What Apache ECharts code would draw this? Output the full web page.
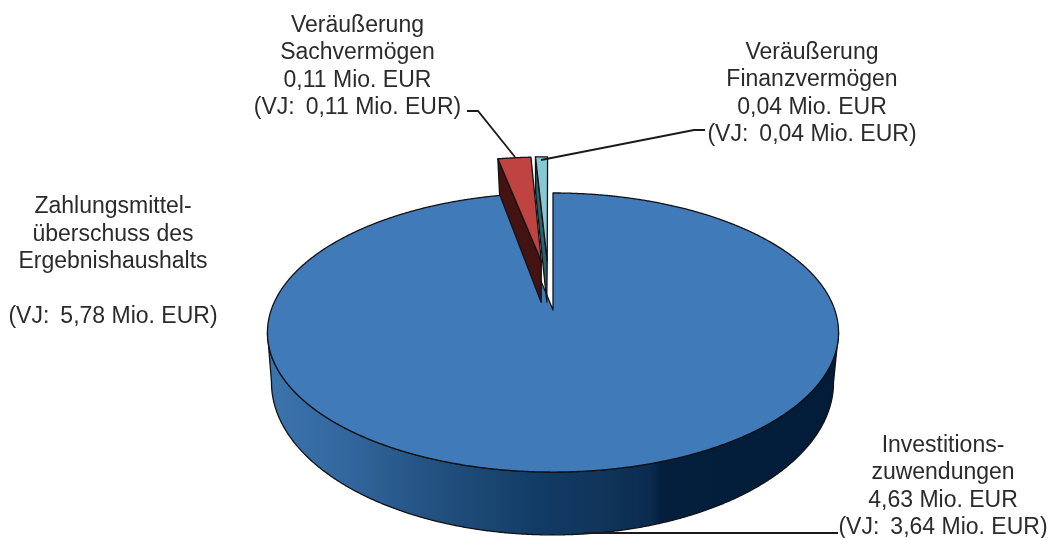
<!DOCTYPE html>
<html>
<head>
<meta charset="utf-8">
<style>html,body{margin:0;padding:0;background:#fff}#chart{width:1051px;height:538px}</style>
<script src="https://cdn.jsdelivr.net/npm/echarts@6/dist/echarts.min.js"></script>
</head>
<body>
<div id="chart"></div>
<script>
// ---- data ----
const nameLines = [
  ['Zahlungsmittel-', 'überschuss des', 'Ergebnishaushalts'],
  ['Investitions-', 'zuwendungen'],
  ['Veräußerung', 'Sachvermögen'],
  ['Veräußerung', 'Finanzvermögen']
];
const values = [null, 4.63, 0.11, 0.04];
const previousYear = [5.78, 3.64, 0.11, 0.04];

// ---- styles / layout ----
const topColors = ['#417ab9', '#417ab9', '#bf4340', '#86c9d3'];
const wallColors = ['#4d1414', '#4d1414', '#451212', '#2a616b'];
const explode = [0, 0, 0.4, 0.4];
const shift = [[0, 0], [0, 0], [1.5, 2], [-3, 2]];
const layers = [1, 1, 5, 3];
const topFace = { ax: 553, ay: 310, A: 281.8, B: 135.9, k: 0.1613 };
const botFace = { ax: 552.5, ay: 355, A: 276.4, B: 147.5, k: 0.18 };
const labelPos = [[113, 262], [943, 486.5], [357.5, 66.5], [812, 93.5]];
const leaders = [
  [[467, 111], [478, 111], [515, 157]],
  [[541, 160], [694, 130], [705, 130]],
  [[584, 533], [838, 533]]
];
const FONT = '"Liberation Sans", Arial, sans-serif';
const fmt = v => v.toFixed(2).replace('.', ',');

const total = values.reduce((s, v) => s + (v || 0), 0);
const toAngle = c => echarts.number.linearMap(c, [0, total], [0, Math.PI * 2]);
const cum = [];
values.reduce((s, v, i) => { cum[i] = [s, s + (v || 0)]; return s + (v || 0); }, 0);

// perspective projection of a point on the unit disc
function proj(face, u, v, s) {
  const w = 1 + face.k * v;
  return [face.ax + s[0] + face.A * u / w, face.ay + s[1] - face.B * v / w];
}
function rim(face, a, off, s) {
  return proj(face, Math.sin(a) + off[0], Math.cos(a) + off[1], s);
}
function arc(face, a0, a1, off, s) {
  const n = Math.max(2, Math.ceil(Math.abs(a1 - a0) / 0.005));
  const pts = [];
  for (let i = 0; i <= n; i++) pts.push(rim(face, a0 + (a1 - a0) * i / n, off, s));
  return pts;
}
const stroke = { stroke: '#101216', lineWidth: 1.3, lineJoin: 'round' };

function renderSlice(params, api) {
  const i = params.dataIndex;
  if (!api.value(1)) return { type: 'group', children: [] };
  const a0 = toAngle(cum[i][0]), a1 = toAngle(cum[i][1]);
  const mid = (a0 + a1) / 2;
  const off = [Math.sin(mid) * explode[i], Math.cos(mid) * explode[i]];
  const s = shift[i];
  const z = layers[i];
  const children = [];
  const apexT = proj(topFace, off[0], off[1], s);
  const apexB = proj(botFace, off[0], off[1], s);
  if (a1 - a0 > Math.PI) {
    // outer wall: silhouette between the two rims on the near side
    const start = Math.acos(-topFace.k), end = Math.PI * 2 - start;
    const startB = Math.acos(-botFace.k), endB = Math.PI * 2 - startB;
    const pts = arc(topFace, start, end, off, s).concat(arc(botFace, endB, startB, off, s));
    children.push({
      type: 'polygon', z2: z,
      shape: { points: pts },
      style: Object.assign({
        fill: new echarts.graphic.LinearGradient(267, 0, 838, 0, [
          { offset: 0, color: '#3c74ad' },
          { offset: 0.13, color: '#33689f' },
          { offset: 0.3, color: '#22507f' },
          { offset: 0.48, color: '#113b65' },
          { offset: 0.58, color: '#11355b' },
          { offset: 0.67, color: '#0b2b4f' },
          { offset: 0.69, color: '#031f3d' },
          { offset: 1, color: '#021c38' }
        ], true)
      }, stroke)
    });
  } else {
    // visible cut face
    const r0T = rim(topFace, a0, off, s), r0B = rim(botFace, a0, off, s);
    children.push({
      type: 'polygon', z2: z,
      shape: { points: [r0T, apexT, apexB, r0B] },
      style: Object.assign({ fill: wallColors[i] }, stroke)
    });
  }
  children.push({
    type: 'polygon', z2: z + 1,
    shape: { points: [apexT].concat(arc(topFace, a0, a1, off, s)) },
    style: Object.assign({ fill: topColors[i] }, stroke)
  });
  return { type: 'group', children };
}

const labelTexts = nameLines.map((lines, i) => {
  const valueLine = values[i] == null ? '' : fmt(values[i]) + ' Mio. EUR';
  return lines.concat([valueLine, '(VJ:\u2009 ' + fmt(previousYear[i]) + ' Mio. EUR)']).join('\n');
});

const graphics = labelTexts.map((t, i) => ({
  type: 'text', z: 10,
  x: labelPos[i][0], y: labelPos[i][1],
  style: {
    text: t, fill: '#2b2b2b', font: '23px ' + FONT, lineHeight: 27.5,
    align: 'center', verticalAlign: 'middle'
  }
})).concat(leaders.map(p => ({
  type: 'polyline', z: 10,
  shape: { points: p },
  style: { fill: null, stroke: '#1a1a1a', lineWidth: 1.8 }
})));

const chart = echarts.init(document.getElementById('chart'), null, { renderer: 'canvas' });
chart.setOption({
  animation: false,
  backgroundColor: '#fff',
  series: [{
    type: 'custom',
    coordinateSystem: 'none',
    silent: true,
    data: values.map((v, i) => [i, v || 0]),
    renderItem: renderSlice
  }],
  graphic: graphics
});
</script>
</body>
</html>
